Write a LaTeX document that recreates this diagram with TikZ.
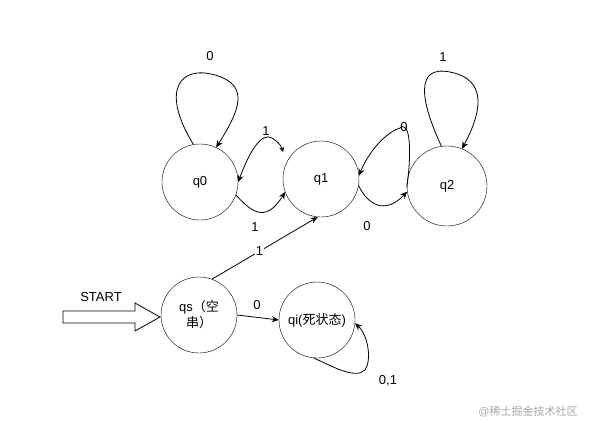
\documentclass[tikz,border=0pt]{standalone}
\usepackage{fontspec}
\setmainfont{Liberation Sans}
\newfontfamily\cjk{Noto Sans CJK SC}
\usetikzlibrary{arrows.meta}
\begin{document}
\begin{tikzpicture}[x=1pt,y=-1pt,
  st/.style={draw,circle,minimum size=76pt,inner sep=0pt,font=\fontsize{13}{16}\selectfont},
  ed/.style={-{Stealth[length=7pt,width=6pt]},line width=0.8pt},
  lb/.style={font=\fontsize{13}{15}\selectfont}]
\useasboundingbox (0,0) rectangle (606,426);
\node[st] (q0) at (200,182) {q0};
\node[st] (q1) at (321,179) {q1};
\node[st,minimum size=80pt] (q2) at (447,186) {q2};
\node[st,align=center] (qs) at (199,315) {qs{\cjk（空}\\{\cjk 串）}};
\node[st] (qi) at (317,320) {qi({\cjk 死状态})};
% loops
\draw[ed] (q0.100) .. controls (160,90) and (180,65) .. (215,75) .. controls (250,85) and (240,110) .. (q0.65);
\node[lb] (l0) at (210,56) {0};
\draw[ed] (q2.98) .. controls (420,100) and (415,65) .. (450,72) .. controls (490,80) and (480,115) .. (q2.68);
\node[lb] (l1) at (443,57) {1};
% q0 q1
\coordinate (a1) at (283,152);
\draw[{Stealth[length=7pt,width=6pt]}-{Stealth[length=5pt,width=5pt]},line width=0.8pt] (q0.east) .. controls (250,150) and (262,132) .. (272,138) .. controls (280,143) and (282,148) .. (a1);
\node[lb] (l2) at (266,131) {1};
\draw[ed] (q0.-20) .. controls (250,210) and (265,225) .. (q1.-160);
\node[lb] (l3) at (255,227) {1};
% q1 q2
\draw[ed] (q2.182) .. controls (412,150) and (410,120) .. (400,128) .. controls (380,135) and (365,160) .. (q1.5);
\node[lb] (l4) at (404,127) {0};
\draw[ed] (q1.-10) .. controls (368,205) and (385,215) .. (q2.188);
\node[lb] (l5) at (367,226) {0};
% qs edges
\draw[ed] (qs.70) -- node[lb,pos=0.45,fill=white,inner sep=1pt] (l6) {1} (q1.-95);
\draw[ed] (qs.east) -- (qi.west);
\node[lb] (l7) at (257,305) {0};
\draw[ed] (qi.-95) .. controls (330,365) and (355,380) .. (365,370) .. controls (372,360) and (368,335) .. (qi.-5);
\node[lb] (l8) at (388,381) {0,1};
% start arrow
\draw[line width=0.8pt] (63,311) -- (135,311) -- (135,303) -- (160,317) -- (135,331) -- (135,323) -- (63,323) -- cycle;
\node[lb] (s) at (101,297) {START};
\node[font=\fontsize{11}{13}\selectfont,text=gray!70] (wm) at (528,412) {@{\cjk 稀土掘金技术社区}};
\end{tikzpicture}
\end{document}
